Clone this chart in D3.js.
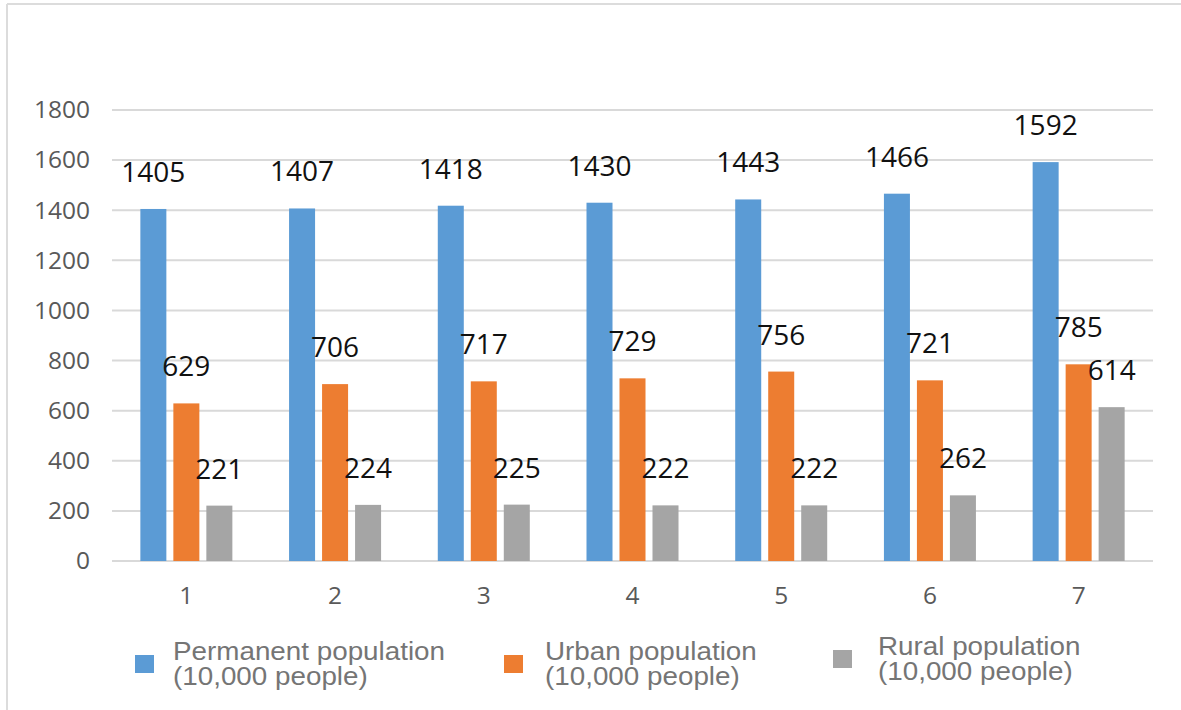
<!DOCTYPE html>
<html>
<head>
<meta charset="utf-8">
<script src="https://cdn.jsdelivr.net/npm/d3@7"></script>
<style>
  html, body { margin: 0; padding: 0; background: #fff; }
  svg { display: block; }
</style>
</head>
<body>
<svg id="chart" width="1181" height="710"></svg>
<script>
// Population figures (10,000 people) for seven periods
const categories = ["1", "2", "3", "4", "5", "6", "7"];
const permanent = [1405, 1407, 1418, 1430, 1443, 1466, 1592];
const urban = [629, 706, 717, 729, 756, 721, 785];
const rural = [221, 224, 225, 222, 222, 262, 614];
const seriesNames = ["Permanent population", "Urban population", "Rural population"];
const seriesUnit = "(10,000 people)";
const yTicks = [0, 200, 400, 600, 800, 1000, 1200, 1400, 1600, 1800];

const seriesValues = [permanent, urban, rural];
const colors = ["#5b9bd5", "#ed7d31", "#a5a5a5"];

const svg = d3.select("#chart");

// outer frame
svg.append("line").attr("x1", 7).attr("x2", 1181).attr("y1", 4).attr("y2", 4)
  .attr("stroke", "#dcdcdc").attr("stroke-width", 2);
svg.append("line").attr("x1", 7).attr("x2", 7).attr("y1", 4).attr("y2", 710)
  .attr("stroke", "#dcdcdc").attr("stroke-width", 2);

const x = d3.scaleBand().domain(categories).range([112, 1153]).padding(0);
const y = d3.scaleLinear().domain([0, 1800]).range([561, 110]);
const sub = d3.scaleBand().domain(d3.range(3)).range([-49.5, 49.5])
  .paddingInner(0.212).paddingOuter(0.106);

// gridlines
svg.append("g").selectAll("line").data(yTicks).join("line")
  .attr("x1", 112).attr("x2", 1153)
  .attr("y1", d => y(d)).attr("y2", d => y(d))
  .attr("stroke", "#d9d9d9").attr("stroke-width", 2);

// y axis labels
const yAxis = svg.append("g").attr("transform", "translate(104,0)")
  .call(d3.axisLeft(y).tickValues(yTicks).tickFormat(d3.format("d")).tickSize(0).tickPadding(14));
yAxis.select(".domain").remove();
yAxis.selectAll("text")
  .attr("font-family", "'Open Sans', sans-serif").attr("font-size", 24.5)
  .attr("fill", "#595959");

// x axis labels
const xAxis = svg.append("g").attr("transform", "translate(0,561)")
  .call(d3.axisBottom(x).tickSize(0).tickPadding(26));
xAxis.select(".domain").remove();
xAxis.selectAll("text")
  .attr("font-family", "'Open Sans', sans-serif").attr("font-size", 24.5)
  .attr("fill", "#595959");

// bars and value labels
seriesValues.forEach((vals, s) => {
  const g = svg.append("g");
  g.selectAll("rect").data(vals).join("rect")
    .attr("x", (d, i) => x(categories[i]) + x.bandwidth() / 2 + sub(s))
    .attr("width", sub.bandwidth())
    .attr("y", d => y(d))
    .attr("height", d => y(0) - y(d))
    .attr("fill", colors[s]);
  g.selectAll("text").data(vals).join("text")
    .attr("x", (d, i) => x(categories[i]) + x.bandwidth() / 2 + sub(s) + sub.bandwidth() / 2)
    .attr("y", d => y(d) - 27)
    .attr("text-anchor", "middle")
    .attr("font-family", "'Open Sans', sans-serif").attr("font-size", 28)
    .attr("fill", "#111")
    .text(d => d);
});

// legend (two-line labels, slightly widened type)
const legendItems = [
  { sx: 135, sy: 655, tx: 173, ty: 660 },
  { sx: 504, sy: 655, tx: 545, ty: 660 },
  { sx: 833, sy: 650, tx: 878, ty: 655 }
];
legendItems.forEach((p, s) => {
  svg.append("rect").attr("x", p.sx).attr("y", p.sy).attr("width", 19).attr("height", 18)
    .attr("fill", colors[s]);
  const t = svg.append("text")
    .attr("transform", `translate(${p.tx},${p.ty}) scale(1.07,1)`)
    .attr("font-family", "'Liberation Sans', Arial, sans-serif").attr("font-size", 26)
    .attr("fill", "#757575");
  t.append("tspan").attr("x", 0).attr("y", 0).text(seriesNames[s]);
  t.append("tspan").attr("x", 0).attr("y", 25).text(seriesUnit);
});
</script>
</body>
</html>
